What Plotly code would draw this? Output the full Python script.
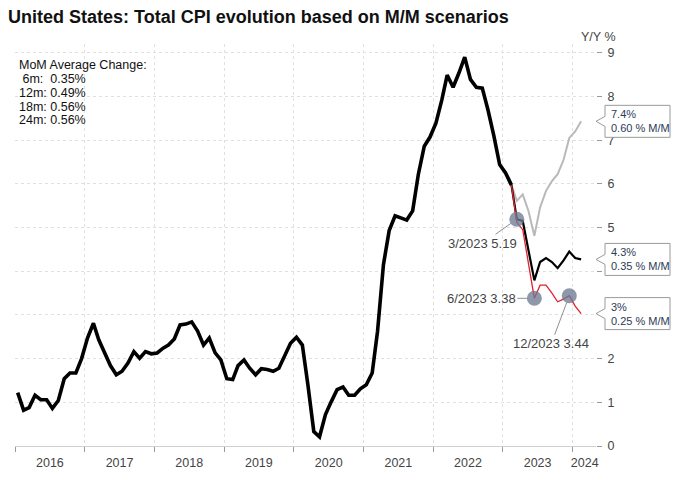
import pandas as pd
import plotly.graph_objects as go

# ---------------- data ----------------
cpi_yoy_hist = [
    # 2016
    1.22, 0.82, 0.88, 1.16, 1.06, 1.06, 0.86, 1.04, 1.54, 1.67, 1.67, 2.00,
    # 2017
    2.47, 2.81, 2.43, 2.15, 1.84, 1.63, 1.71, 1.90, 2.16, 2.01, 2.16, 2.11,
    # 2018
    2.13, 2.24, 2.31, 2.45, 2.77, 2.79, 2.84, 2.63, 2.31, 2.47, 2.13, 1.97,
    # 2019
    1.54, 1.52, 1.84, 1.97, 1.78, 1.63, 1.77, 1.75, 1.71, 1.78, 2.07, 2.35,
    # 2020
    2.49, 2.31, 1.40, 0.33, 0.21, 0.72, 1.01, 1.29, 1.35, 1.16, 1.16, 1.31,
    # 2021
    1.40, 1.67, 2.62, 4.15, 4.93, 5.27, 5.22, 5.17, 5.38, 6.22, 6.86, 7.07,
    # 2022
    7.39, 7.92, 8.49, 8.21, 8.53, 8.90, 8.39, 8.21, 8.19, 7.69, 7.09, 6.44,
    # 2023
    6.25, 5.97,
]
hist_start = "2016-01-01"

# scenarios from Feb 2023 to Feb 2024
proj_start = "2023-02-01"
scen_060 = [5.97, 5.61, 5.76, 5.38, 4.81, 5.46, 5.84, 6.06, 6.22, 6.55, 7.05, 7.20, 7.43]
scen_035 = [5.97, 5.19, 5.15, 4.45, 3.79, 4.21, 4.30, 4.21, 4.07, 4.25, 4.45, 4.30, 4.27]
scen_025 = [5.97, 5.12, 4.95, 4.20, 3.38, 3.68, 3.68, 3.50, 3.30, 3.36, 3.44, 3.20, 3.03]

callout_pct = ["7.4%", "4.3%", "3%"]
callout_mom = ["0.60 % M/M", "0.35 % M/M", "0.25 % M/M"]

marker_months = ["2023-03", "2023-06", "2023-12"]
marker_vals = [5.19, 3.38, 3.44]
marker_offsets = [(-34, 24), (-53, 0), (-18, 48)]

mom_avg_labels = ["MoM Average Change:", "\u00a06m:\u00a0\u00a00.35%", "12m: 0.49%", "18m: 0.56%", "24m: 0.56%"]

year_labels = ["2016", "2017", "2018", "2019", "2020", "2021", "2022", "2023", "2024"]
y_ticks = [0, 1, 2, 3, 4, 5, 6, 7, 8, 9]
# labels 3 and 4 sit behind the callout boxes in the reference
y_ticktext = ["0", "1", "2", "", "", "5", "6", "7", "8", "9"]

# ---------------- build ----------------
FONT = "Liberation Sans, Arial, sans-serif"
W, H = 680, 482
ML, MR, MT, MB = 15, 84, 44, 33
plot_h = H - MT - MB

mid = pd.Timedelta(days=14)
hist_dates = pd.date_range(hist_start, periods=len(cpi_yoy_hist), freq="MS") + mid
proj_dates = pd.date_range(proj_start, periods=len(scen_060), freq="MS") + mid

fig = go.Figure()
fig.add_trace(go.Scatter(x=proj_dates, y=scen_060, mode="lines",
                         line=dict(color="#b9b9b9", width=2), hoverinfo="skip"))
fig.add_trace(go.Scatter(x=proj_dates, y=scen_035, mode="lines",
                         line=dict(color="#000000", width=2.2), hoverinfo="skip"))
fig.add_trace(go.Scatter(x=hist_dates, y=cpi_yoy_hist, mode="lines",
                         line=dict(color="#000000", width=3.6), hoverinfo="skip"))
fig.add_trace(go.Scatter(x=proj_dates, y=scen_025, mode="lines",
                         line=dict(color="#e3202b", width=1.3), hoverinfo="skip"))

mk_dates = [pd.Timestamp(m + "-01") + mid for m in marker_months]
fig.add_trace(go.Scatter(x=mk_dates, y=marker_vals, mode="markers",
                         marker=dict(size=15, color="rgba(112,122,146,0.78)"),
                         hoverinfo="skip"))

annotations = []
for d, m, v, (ax, ay) in zip(mk_dates, marker_months, marker_vals, marker_offsets):
    yy, mm = m.split("-")
    annotations.append(dict(
        x=d, y=v, xref="x", yref="y", text=f"{int(mm)}/{yy} {v:.2f}",
        showarrow=True, arrowhead=0, arrowwidth=1, arrowcolor="#8f8f8f",
        ax=ax, ay=ay, standoff=7, font=dict(family=FONT, size=13, color="#444444"),
    ))

# MoM average text block
line_px = [65, 79, 93, 107, 121]
for txt, ypx in zip(mom_avg_labels, line_px):
    annotations.append(dict(
        x=0.003, y=1 - (ypx - MT) / plot_h, xref="paper", yref="paper",
        xanchor="left", yanchor="middle", showarrow=False, text=txt,
        font=dict(family=FONT, size=12.5, color="#111111"),
    ))

# axis title
annotations.append(dict(x=1, y=1 + (MT - 37) / plot_h, xref="paper", yref="paper",
                        xanchor="center", yanchor="middle", xshift=2, showarrow=False,
                        text="Y/Y %", font=dict(family=FONT, size=12.5, color="#444444")))

# callouts on the right
shapes = []
for series, pct, mom in zip([scen_060, scen_035, scen_025], callout_pct, callout_mom):
    v = series[-1]
    shapes.append(dict(
        type="path", xref="paper", yref="y", xsizemode="pixel", ysizemode="pixel",
        xanchor=1, yanchor=v,
        path="M0,0 L9,5 L9,16 L74,16 L74,-16 L9,-16 L9,-5 Z",
        line=dict(color="#9a9a9a", width=1), fillcolor="white", layer="above",
    ))
    annotations.append(dict(
        x=1, y=v, xref="paper", yref="y", xanchor="left", yanchor="middle",
        xshift=13, showarrow=False, align="left", text=f"{pct}<br>{mom}",
        font=dict(family=FONT, size=11, color="#2d3a57"),
    ))

jan_ticks = [f"{y}-01-01" for y in year_labels]
label_pos = [f"{y}-07-02" for y in year_labels[:-1]] + [f"{year_labels[-1]}-03-05"]

fig.update_layout(
    width=W, height=H,
    margin=dict(l=ML, r=MR, t=MT, b=MB),
    paper_bgcolor="white", plot_bgcolor="white",
    showlegend=False,
    title=dict(text="United States: Total CPI evolution based on M/M scenarios",
               x=8 / W, xref="container", xanchor="left",
               y=1 - 16.5 / H, yref="container", yanchor="middle",
               font=dict(family="Liberation Sans, Arial",
                         size=18, color="#111111", weight="bold")),
    xaxis=dict(
        type="date", range=["2016-01-01", "2024-05-03"],
        tickmode="array", tickvals=label_pos, ticktext=year_labels,
        ticks="", showgrid=False, showline=False, zeroline=False,
        ticklabelstandoff=7,
        tickfont=dict(family=FONT, size=12.5, color="#444444"),
        minor=dict(tickmode="array", tickvals=jan_ticks, ticks="outside", ticklen=5,
                   tickcolor="#9a9a9a", tickwidth=1, showgrid=True,
                   gridcolor="#e0e0e0", griddash="dot", gridwidth=1),
    ),
    yaxis=dict(
        side="right", range=[0, 9.2], tickmode="array", tickvals=y_ticks,
        ticktext=y_ticktext,
        ticks="outside", ticklen=5, tickcolor="#9a9a9a",
        showgrid=True, gridcolor="#e0e0e0", griddash="dot", gridwidth=1,
        zeroline=True, zerolinecolor="#d0d0d0", zerolinewidth=1,
        showline=False, ticklabelstandoff=3,
        tickfont=dict(family=FONT, size=12.5, color="#444444"),
    ),
    annotations=annotations,
    shapes=shapes,
)

fig.write_html("out.html", config={"displayModeBar": False},
               post_script="document.body.style.margin='0';")
